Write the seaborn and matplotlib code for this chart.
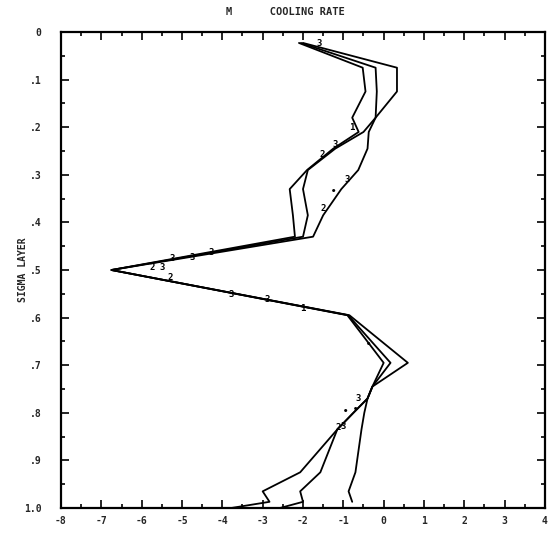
import numpy as np
import pandas as pd
import matplotlib
matplotlib.use("Agg")
import matplotlib.pyplot as plt
import seaborn as sns
from matplotlib.ticker import MultipleLocator, FixedLocator

# ---- data ----
sigma = [0.023, 0.075, 0.125, 0.18, 0.21, 0.245, 0.29, 0.33, 0.385, 0.43,
         0.50, 0.595, 0.695, 0.745, 0.77, 0.80, 0.835, 0.925, 0.965, 0.987, 1.0]
curve_1 = [-2.10, -0.52, -0.45, -0.78, -0.62, -1.25, -1.90, -2.33, -2.25, -2.20,
           -6.75, -0.90, 0.00, -0.28, -0.40, -0.75, -1.15, -2.07, -3.00, -2.83, -3.78]
curve_2 = [-2.05, -0.20, -0.17, -0.20, -0.50, -1.20, -1.88, -2.00, -1.88, -2.00,
           -6.75, -0.88, 0.17, -0.28, -0.40, -0.75, -1.15, -1.57, -2.07, -2.00, -2.57]
curve_3 = [-2.00, 0.33, 0.33, -0.20, -0.37, -0.40, -0.63, -1.05, -1.50, -1.75,
           -6.75, -0.85, 0.60, -0.28, -0.40, -0.48, -0.55, -0.70, -0.87, -0.78, np.nan]

# character labels plotted along the curves
mark_x = [-1.6, -0.8, -1.2, -1.52, -0.9, -1.25, -1.5, -4.28, -4.75, -5.25,
          -5.75, -5.5, -5.3, -3.78, -2.88, -2.0, -0.37, -0.62, -0.7, -0.95, -1.12, -1.0]
mark_y = [0.025, 0.20, 0.237, 0.258, 0.31, 0.336, 0.37, 0.464, 0.473, 0.475,
          0.494, 0.494, 0.515, 0.552, 0.563, 0.58, 0.657, 0.77, 0.794, 0.798, 0.83, 0.828]
mark_lbl = ["3", "1", "3", "2", "3", "•", "2", "3", "3", "3",
            "2", "3", "2", "3", "3", "1", "•", "3", "•", "•", "2", "3"]

x_ticks = [-8, -7, -6, -5, -4, -3, -2, -1, 0, 1, 2, 3, 4]
y_ticks = [0.0, 0.1, 0.2, 0.3, 0.4, 0.5, 0.6, 0.7, 0.8, 0.9, 1.0]
y_tick_labels = ["0", ".1", ".2", ".3", ".4", ".5", ".6", ".7", ".8", ".9", "1.0"]

# ---- build long table ----
rows = []
for name, vals in (("1", curve_1), ("2", curve_2), ("3", curve_3)):
    for s, v in zip(sigma, vals):
        rows.append({"curve": name, "sigma": s, "rate": v})
df = pd.DataFrame(rows).dropna()

sns.set_style("ticks")
plt.rcParams["font.family"] = ["DejaVu Sans Mono", "DejaVu Sans"]
plt.rcParams["font.weight"] = "bold"

fig = plt.figure(figsize=(5.57, 5.37), dpi=100)
ax = fig.add_axes([61 / 557, 1 - 508 / 537, (545 - 61) / 557, (508 - 32) / 537])

sns.lineplot(data=df, x="rate", y="sigma", hue="curve", units="curve",
             estimator=None, sort=False, palette=["black"] * 3,
             linewidth=1.3, legend=False, ax=ax)

for mx, my, ml in zip(mark_x, mark_y, mark_lbl):
    ax.text(mx, my, ml, fontsize=6.5, fontweight="bold", ha="center", va="center",
            color="black")

ax.set_xlim(-8, 4)
ax.set_ylim(1.0, 0.0)
ax.xaxis.set_major_locator(FixedLocator(x_ticks))
ax.xaxis.set_minor_locator(MultipleLocator(0.5))
ax.yaxis.set_major_locator(FixedLocator(y_ticks))
ax.yaxis.set_minor_locator(MultipleLocator(0.05))
ax.set_xticklabels([str(t) for t in x_ticks])
ax.set_yticklabels(y_tick_labels)
ax.tick_params(which="both", direction="in", top=True, right=True,
               labelsize=7, width=1.2, color="black")
ax.tick_params(which="major", length=6)
ax.tick_params(which="minor", length=3)
ax.tick_params(axis="x", pad=6)
ax.tick_params(axis="y", pad=14)
for sp in ax.spines.values():
    sp.set_linewidth(1.6)
    sp.set_color("black")
ax.set_xlabel("")
ax.set_ylabel("SIGMA LAYER", fontsize=7, fontweight="bold")
ax.yaxis.set_label_coords((28 - 61) / 484, (508 - 270) / 476)

fig.text(285 / 557, 1 - 12 / 537, "M      COOLING RATE", ha="center", va="center",
         fontsize=7.5, fontweight="bold")

fig.savefig("out.png", dpi=100)
